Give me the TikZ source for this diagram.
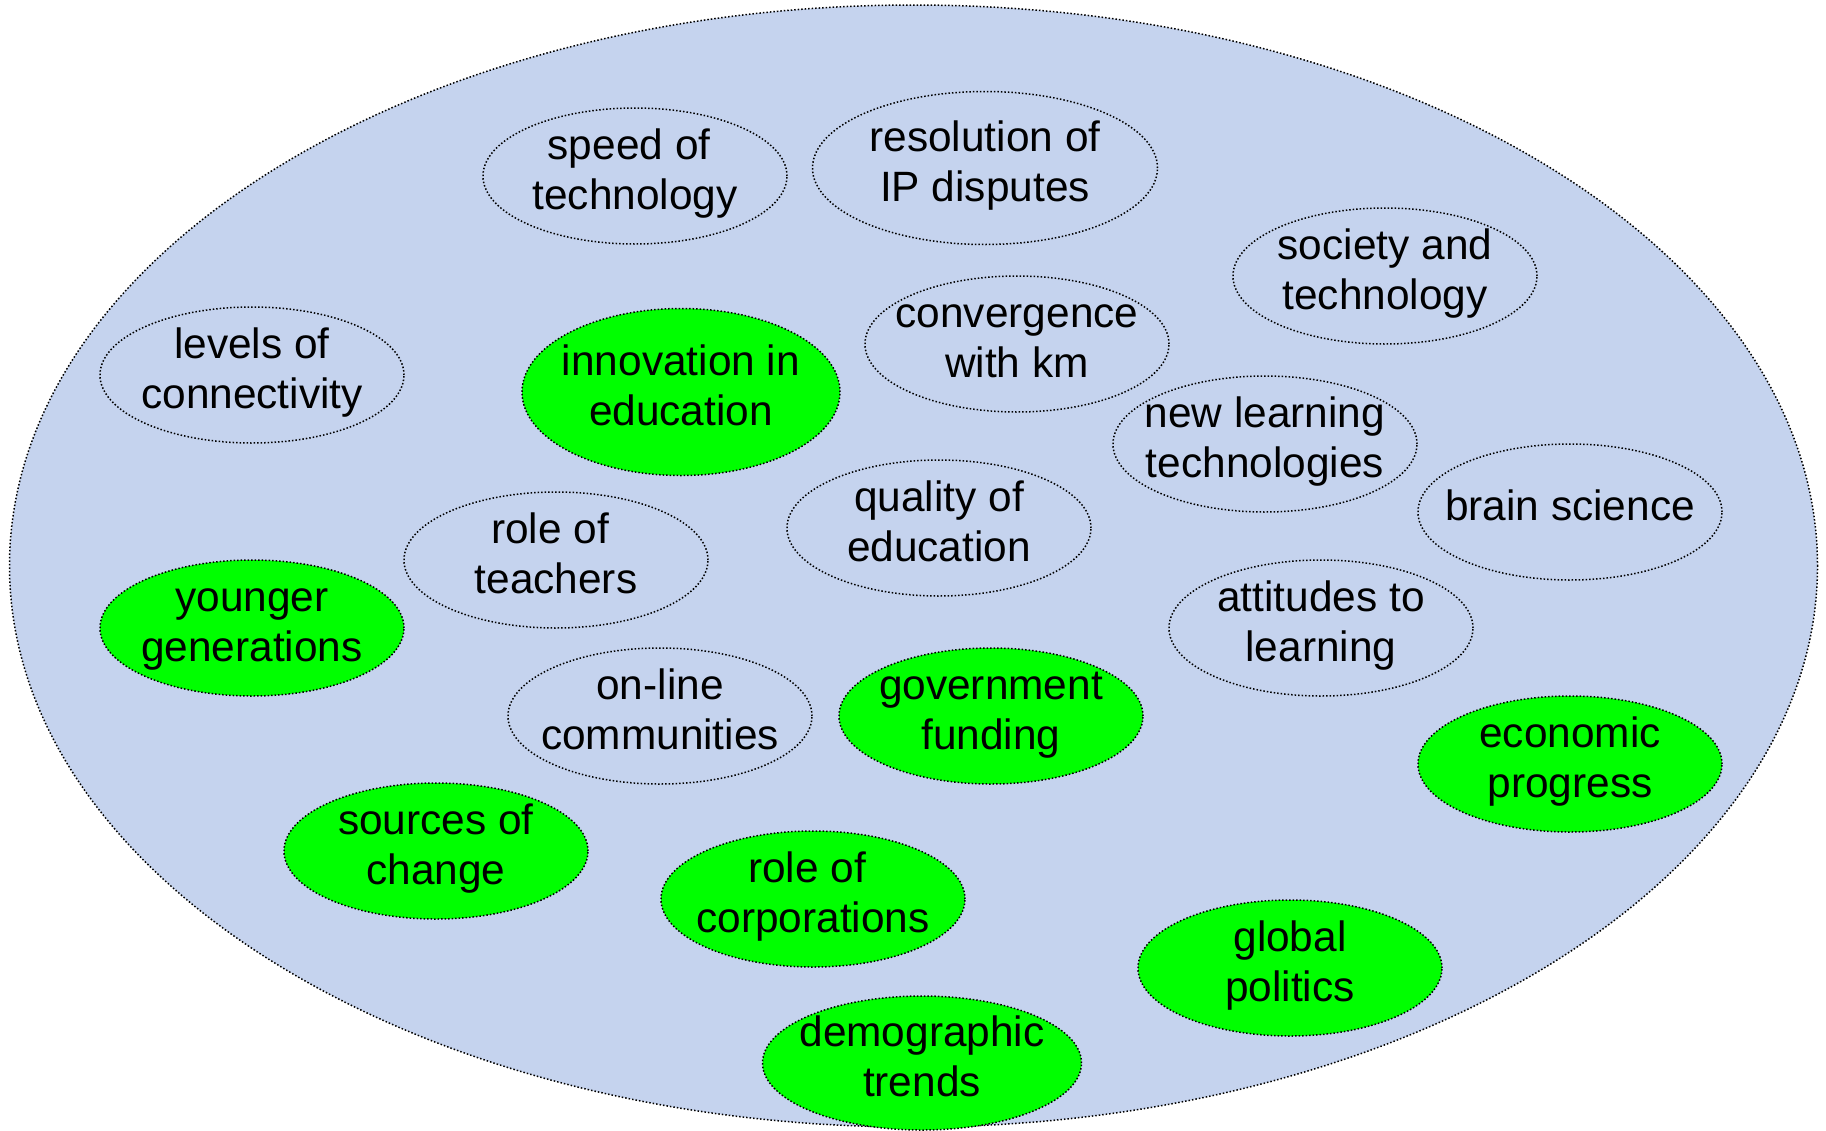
\documentclass[tikz,border=0pt]{standalone}
\usepackage{fontspec}
\setmainfont{Liberation Sans}
\usetikzlibrary{shapes.geometric}
\definecolor{bgblue}{RGB}{197,211,238}
\definecolor{bubblegreen}{RGB}{0,255,0}
\newcommand{\trsp}{\kern11.8pt}
\begin{document}
\begin{tikzpicture}[x=1pt,y=-1pt,
  txt/.style={align=center, inner sep=0pt, yshift=2pt,
    font=\fontsize{42.4}{50}\selectfont},
  bubble/.style={ellipse, draw=black, dotted, line width=1.5pt, inner sep=0pt,
    minimum width=304pt, minimum height=136pt,
    label={[txt]center:{#1}}},
  hot/.style={bubble={#1}, fill=bubblegreen}]
\useasboundingbox (0,0) rectangle (1826,1130);
\node[ellipse, draw=black, dotted, line width=1.5pt, fill=bgblue, inner sep=0pt,
  minimum width=1808pt, minimum height=1122pt] (world) at (913.5,566) {};
\node[bubble={\strut speed of\trsp\\\strut technology}] (speed) at (635,176) {};
\node[bubble={\strut resolution of\\\strut IP disputes}, minimum width=345pt, minimum height=153pt] (ip) at (985,168) {};
\node[bubble={\strut society and\\\strut technology}] (society) at (1385,276) {};
\node[bubble={\strut levels of\\\strut connectivity}] (levels) at (252,375) {};
\node[hot={\strut innovation in\\\strut education}, minimum width=318pt, minimum height=167pt] (innov) at (681,392) {};
\node[bubble={\strut convergence\\\strut with km}] (conv) at (1017,344) {};
\node[bubble={\strut new learning\\\strut technologies}] (newlearn) at (1265,444) {};
\node[bubble={\strut brain science}] (brain) at (1570,512) {};
\node[bubble={\strut quality of\\\strut education}] (quality) at (939,528) {};
\node[bubble={\strut role of\trsp\\\strut teachers}] (teachers) at (556,560) {};
\node[hot={\strut younger\\\strut generations}] (younger) at (252,628) {};
\node[bubble={\strut attitudes to\\\strut learning}] (attitudes) at (1321,628) {};
\node[bubble={\strut on-line\\\strut communities}] (online) at (660,716) {};
\node[hot={\strut government\\\strut funding}] (govt) at (991,716) {};
\node[hot={\strut economic\\\strut progress}] (econ) at (1570,764) {};
\node[hot={\strut sources of\\\strut change}] (sources) at (436,851) {};
\node[hot={\strut role of\trsp\\\strut corporations}] (corp) at (813,899) {};
\node[hot={\strut global\\\strut politics}] (global) at (1290,968) {};
\node[hot={\strut demographic\\\strut trends}, minimum width=319pt, minimum height=134pt] (demo) at (922,1063) {};
\end{tikzpicture}
\end{document}
